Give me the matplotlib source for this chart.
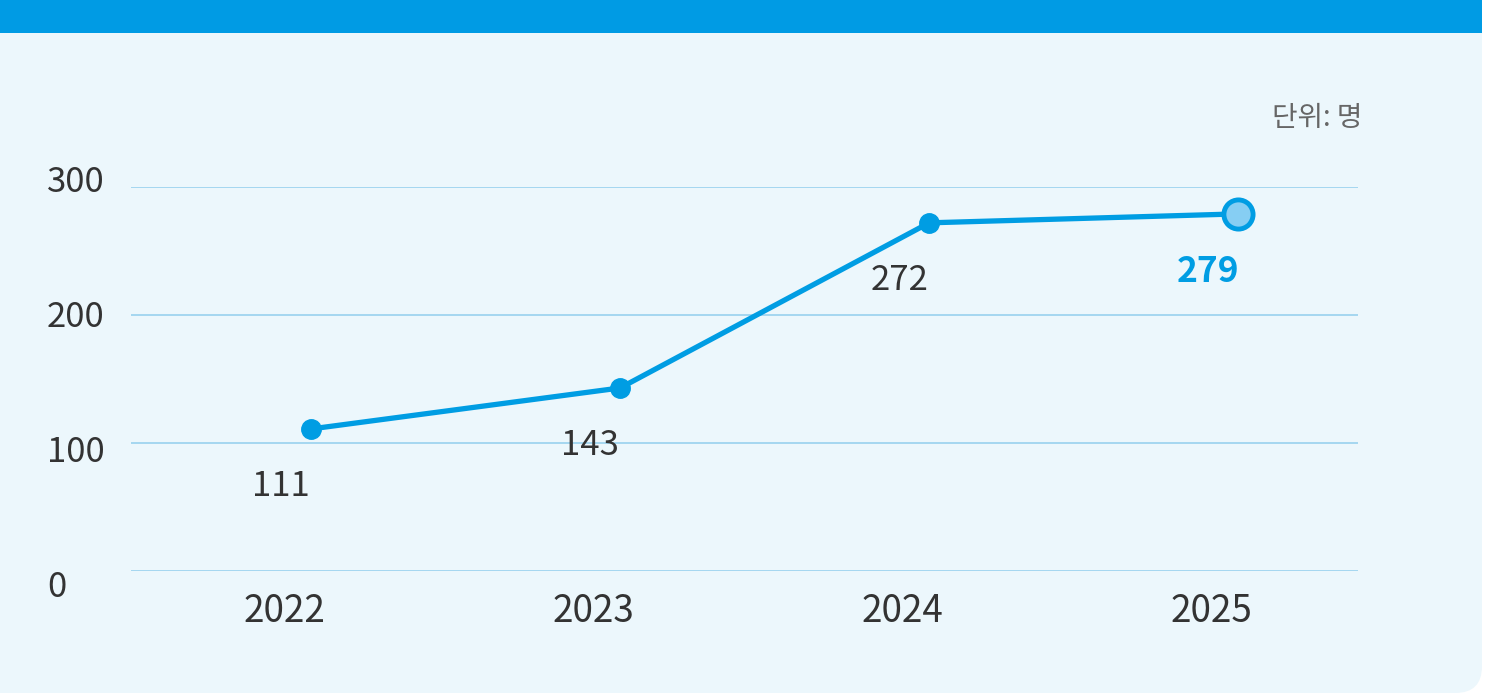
import matplotlib.pyplot as plt
from matplotlib.patches import FancyBboxPatch, Rectangle

plt.rcParams['font.family'] = ['Noto Sans CJK KR', 'DejaVu Sans']

years = ['2022', '2023', '2024', '2025']
values = [111, 143, 272, 279]
yticks = [0, 100, 200, 300]
unit_text = '단위: 명'

BLUE = '#009de3'
LIGHT_BLUE = '#86cef3'
PANEL = '#ecf7fc'
GRID = '#9fd4ef'
TEXT = '#333333'

W, H = 1485, 693
fig = plt.figure(figsize=(W / 100, H / 100), dpi=100)
fig.patch.set_facecolor('white')

# panel background: rounded on the bottom right, square elsewhere, header band on top
panel = FancyBboxPatch((0, 0), 1482 / W, 1 - 3 / H, boxstyle='round,pad=0,rounding_size=0.018',
                       transform=fig.transFigure, facecolor=PANEL, edgecolor='none', zorder=-10,
                       mutation_aspect=W / H)
fig.patches.append(panel)
fig.patches.append(Rectangle((0, 0), 0.5, 0.5, transform=fig.transFigure,
                             facecolor=PANEL, edgecolor='none', zorder=-9))
fig.patches.append(Rectangle((0, 1 - 33 / H), 1482 / W, 33 / H, transform=fig.transFigure,
                             facecolor='#009be4', edgecolor='none', zorder=-8))

left, right = 131, 1358
bottom, top = 571, 187
ax = fig.add_axes([left / W, (H - bottom) / H, (right - left) / W, (bottom - top) / H])
ax.set_facecolor('none')
for s in ax.spines.values():
    s.set_visible(False)
ax.set_xticks([])
ax.set_yticks([])

xs = list(range(len(years)))
ax.set_xlim(-0.583, 3.388)
ax.set_ylim(0, 300)

for v in yticks:
    ax.axhline(v, color=GRID, lw=1.3, zorder=1)

ax.plot(xs, values, color=BLUE, lw=3.8, zorder=3, solid_capstyle='round')
ax.plot(xs[:-1], values[:-1], 'o', color=BLUE, ms=14, zorder=4)
ax.plot(xs[-1], values[-1], 'o', markerfacecolor=LIGHT_BLUE, markeredgecolor=BLUE,
        ms=21, mew=3.5, zorder=5, clip_on=False)

# value labels under each point
for i, (x, v) in enumerate(zip(xs, values)):
    last = i == len(values) - 1
    ax.annotate(str(v), (x, v), xytext=(-30, -58), textcoords='offset pixels',
                ha='center', va='center', fontsize=25.5 if last else 25,
                color=BLUE if last else TEXT,
                fontweight='bold' if last else 'light')

# year labels
for x, yr in zip(xs, years):
    ax.annotate(yr, (x, 0), xytext=(-27, -40), textcoords='offset pixels',
                ha='center', va='center', fontsize=26.5, color=TEXT, fontweight='medium')

# y tick labels, left aligned at the panel edge
ytrans = ax.get_yaxis_transform()
for v in yticks:
    dy = -5 + (300 - v) * 0.073
    ax.annotate(str(v), (-(left - 47) / (right - left), v), xycoords=ytrans,
                xytext=(0, -dy), textcoords='offset pixels',
                ha='left', va='center', fontsize=25, color=TEXT, fontweight='medium')

fig.text(1362 / W, 1 - 118 / H, unit_text, ha='right', va='center', fontsize=20, color='#666666')

fig.savefig('out.png', dpi=100, facecolor=fig.get_facecolor())
